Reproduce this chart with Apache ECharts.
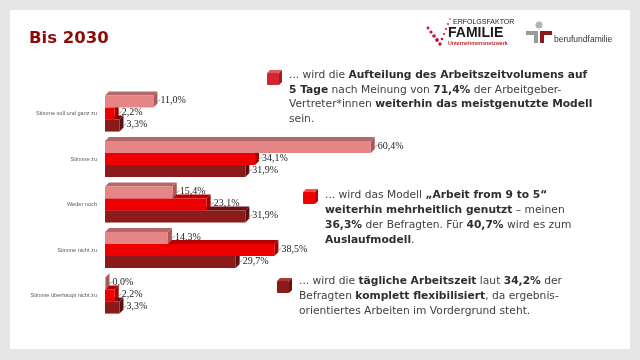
<!DOCTYPE html>
<html><head><meta charset="utf-8">
<script src="https://cdn.jsdelivr.net/npm/echarts@6/dist/echarts.min.js"></script>
<style>html,body{margin:0;padding:0;background:#e7e6e6}#c{width:640px;height:360px}</style>
</head><body><div id="c"></div>
<script>
const categories = ['Stimme voll und ganz zu','Stimme zu','Weder noch','Stimme nicht zu','Stimme überhaupt nicht zu'];
const fuenfTage = [11.0, 60.4, 15.4, 14.3, 0.0];
const neunBisFuenf = [2.2, 34.1, 23.1, 38.5, 2.2];
const flexibel = [3.3, 31.9, 31.9, 29.7, 3.3];

const chart = echarts.init(document.getElementById('c'), null, {renderer:'canvas'});

function bar3d(name, data, idx, cFront, cTop, cSide, z) {
  return {
    type: 'custom', name: name, z: z,
    data: data.map((v, i) => [v, i]),
    encode: {x: 0, y: 1},
    renderItem: function (params, api) {
      const v = api.value(0), ci = api.value(1);
      const p0 = api.coord([0, ci]);
      const p1 = api.coord([v, ci]);
      const band = api.size([0, 1])[1];
      const h = band * 0.265;
      const d = 4;
      const y0 = p0[1] - 1.5 * h + idx * h;
      const x0 = p0[0], x1 = Math.max(p1[0], x0 + 0.5);
      const yc = y0 + h / 2;
      const lbl = v.toFixed(1).replace('.', ',') + '%';
      return {type: 'group', children: [
        {type: 'polygon', shape: {points: [[x0, y0], [x0 + d, y0 - d], [x1 + d, y0 - d], [x1, y0]]}, style: {fill: cTop}},
        {type: 'polygon', shape: {points: [[x1, y0], [x1 + d, y0 - d], [x1 + d, y0 + h - d], [x1, y0 + h]]}, style: {fill: cSide}},
        {type: 'rect', shape: {x: x0, y: y0, width: x1 - x0, height: h}, style: {fill: cFront}},
        {type: 'line', shape: {x1: x1 + d - 1, y1: yc + 1, x2: x1 + d + 3, y2: yc - 2}, style: {stroke: '#8c8c8c', lineWidth: 0.8}},
        {type: 'text', x: x1 + d + 3, y: yc - 1, style: {text: lbl, fontFamily: 'Liberation Serif', fontSize: 10, fill: '#1a1a1a', verticalAlign: 'middle', align: 'left'}}
      ]};
    }
  };
}

function cube(x, y, s, front, top, side) {
  const d = 3;
  return {type: 'group', children: [
    {type: 'polygon', shape: {points: [[x, y + d], [x + d, y], [x + s + d, y], [x + s, y + d]]}, style: {fill: top}},
    {type: 'polygon', shape: {points: [[x + s, y + d], [x + s + d, y], [x + s + d, y + s], [x + s, y + s + d]]}, style: {fill: side}},
    {type: 'rect', shape: {x: x, y: y + d, width: s, height: s, r: 1}, style: {fill: front}}
  ]};
}

const FS = 10.7;
const baseText = {fontFamily: 'DejaVu Sans', fontSize: FS, fill: '#404040'};
const richB = {fontFamily: 'DejaVu Sans', fontSize: FS, fontWeight: 'bold', fill: '#2e2e2e'};

function para(x, y, txt, lh) {
  return {type: 'text', x: x, y: y, style: Object.assign({}, baseText, {text: txt, lineHeight: lh, rich: {b: Object.assign({}, richB, {lineHeight: lh})}, verticalAlign: 'top'})};
}

// checkmark dots of logo
const dots = [[428,28,1.4],[431,32,1.6],[434,36,1.8],[437,40,1.9],[440,44,1.7],[442,39,1.3],[444,34,1.1],[446,29,1.0],[448,24,0.9],[450,19,0.8]];

const option = {
  animation: false,
  backgroundColor: '#e7e6e6',
  grid: {left: 105, right: 95, top: 90.75, height: 227.5},
  xAxis: {type: 'value', min: 0, max: 100, show: false},
  yAxis: {type: 'category', data: categories, inverse: true,
    axisLine: {show: false}, axisTick: {show: false}, splitLine: {show: false},
    axisLabel: {fontFamily: 'Liberation Sans', fontSize: 5.6, color: '#595959', margin: 8}},
  series: [
    bar3d('Arbeit auf 5 Tage', fuenfTage, 0, '#e58585', '#b56868', '#a85a5a', 6),
    bar3d('Arbeit from 9 to 5', neunBisFuenf, 1, '#ee0000', '#b80000', '#a00000', 5),
    bar3d('Tägliche Arbeitszeit flexibilisiert', flexibel, 2, '#8b1a1a', '#6a1212', '#5c0e0e', 4)
  ],
  graphic: [
    {type: 'rect', shape: {x: 10, y: 10, width: 620, height: 339}, style: {fill: '#ffffff'}, z: -10},
    {type: 'text', x: 29, y: 47, style: {text: 'Bis 2030', fontFamily: 'DejaVu Sans', fontWeight: 'bold', fontSize: 16.5, fill: '#8b0a0a', verticalAlign: 'bottom'}},
    // Erfolgsfaktor Familie logo
    ...dots.map(p => ({type: 'circle', shape: {cx: p[0], cy: p[1], r: p[2]}, style: {fill: '#c8102e'}})),
    {type: 'text', x: 453, y: 22.5, style: {text: 'ERFOLGSFAKTOR', fontFamily: 'Liberation Sans', fontSize: 7, fill: '#222222', verticalAlign: 'middle'}},
    {type: 'text', x: 448, y: 33.5, style: {text: 'FAMILIE', fontFamily: 'Liberation Sans', fontWeight: 'bold', fontSize: 14, fill: '#1a1a1a', verticalAlign: 'middle'}},
    {type: 'text', x: 448, y: 43.5, style: {text: 'Unternehmensnetzwerk', fontFamily: 'Liberation Sans', fontWeight: 'bold', fontSize: 5.3, fill: '#c0282d', verticalAlign: 'middle'}},
    // berufundfamilie logo
    {type: 'circle', shape: {cx: 539, cy: 25, r: 3.5}, style: {fill: '#b3b3b3'}},
    {type: 'rect', shape: {x: 526, y: 31, width: 12, height: 4}, style: {fill: '#9a9a9a'}},
    {type: 'rect', shape: {x: 534, y: 31, width: 4, height: 12}, style: {fill: '#9a9a9a'}},
    {type: 'rect', shape: {x: 540, y: 31, width: 4, height: 12}, style: {fill: '#8b1a1a'}},
    {type: 'rect', shape: {x: 540, y: 31, width: 12, height: 4}, style: {fill: '#8b1a1a'}},
    {type: 'text', x: 554, y: 40, style: {text: 'berufundfamilie', fontFamily: 'Liberation Sans', fontSize: 8.5, fill: '#333333', verticalAlign: 'middle'}},
    // text blocks
    cube(267, 70, 12, '#d1262f', '#e0575e', '#a81a22'),
    para(289, 68, '... wird die {b|Aufteilung des Arbeitszeitvolumens auf}\n{b|5 Tage} nach Meinung von {b|71,4%} der Arbeitgeber-\nVertreter*innen {b|weiterhin das meistgenutzte Modell}\nsein.', 14.5),
    cube(303, 189, 12, '#ee0000', '#ff4a4a', '#b80000'),
    para(325, 188, '... wird das Modell {b|„Arbeit from 9 to 5“}\n{b|weiterhin mehrheitlich genutzt} – meinen\n{b|36,3%} der Befragten. Für {b|40,7%} wird es zum\n{b|Auslaufmodell}.', 15),
    cube(277, 278, 12, '#8b1a1a', '#a83a3a', '#6a1212'),
    para(299, 274, '... wird die {b|tägliche Arbeitszeit} laut {b|34,2%} der\nBefragten {b|komplett flexibilisiert}, da ergebnis-\norientiertes Arbeiten im Vordergrund steht.', 15)
  ]
};
chart.setOption(option);
</script></body></html>
